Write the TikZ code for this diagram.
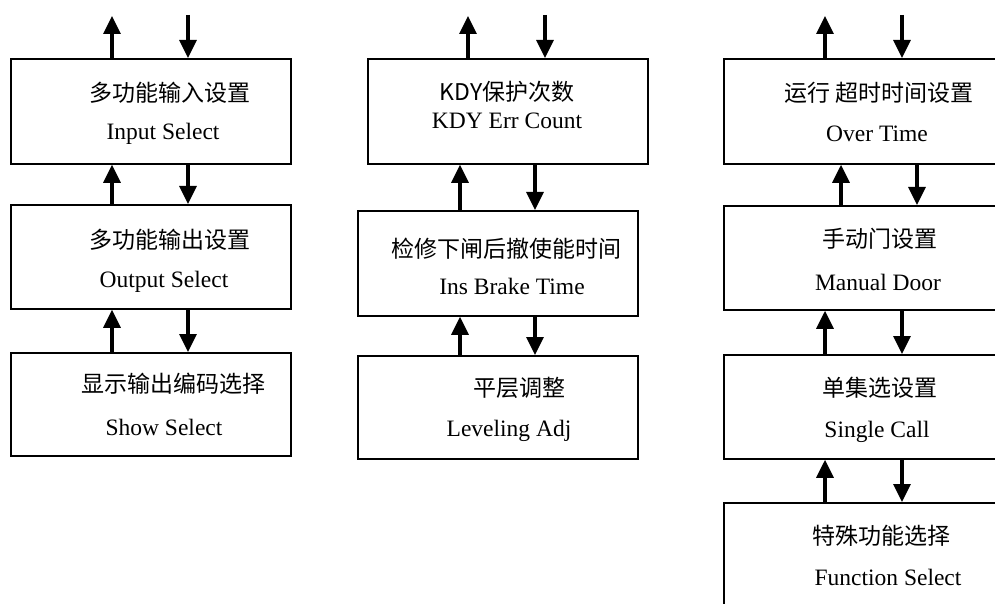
\documentclass[tikz,border=0pt]{standalone}
\usepackage{fontspec}
\setmainfont{Liberation Serif}
\newfontfamily\cjk{Noto Sans CJK SC}
\usetikzlibrary{arrows.meta,calc}
\begin{document}
\begin{tikzpicture}[x=1pt,y=-1pt,
  box/.style={draw,line width=1.8pt,anchor=north west,inner sep=0pt},
  arr/.style={line width=3.2pt,-{Triangle[width=17pt,length=18pt]}},
  cn/.style={font=\cjk\fontsize{23}{28}\selectfont,anchor=base,inner sep=0pt},
  en/.style={font=\fontsize{23.5}{28}\selectfont,anchor=base,inner sep=0pt}]
\clip (0,0) rectangle (995,604);
\fill[white] (0,0) rectangle (995,604);
% column 1
\node[box,minimum width=280pt,minimum height=105pt] (a1) at (10,58) {};
\node[box,minimum width=280pt,minimum height=104pt] (a2) at (10,204) {};
\node[box,minimum width=280pt,minimum height=103pt] (a3) at (10,352) {};
% column 2
\node[box,minimum width=280pt,minimum height=105pt] (b1) at (367,58) {};
\node[box,minimum width=280pt,minimum height=105pt] (b2) at (357,210) {};
\node[box,minimum width=280pt,minimum height=103pt] (b3) at (357,355) {};
% column 3
\node[box,minimum width=300pt,minimum height=105pt] (c1) at (723,58) {};
\node[box,minimum width=300pt,minimum height=104pt] (c2) at (723,205) {};
\node[box,minimum width=300pt,minimum height=104pt] (c3) at (723,354) {};
\node[box,minimum width=300pt,minimum height=130pt] (c4) at (723,502) {};
% labels
\node[cn] (a1c) at (170,102) {多功能输入设置};
\node[en] (a1e) at (163,140) {Input Select};
\node[cn] (a2c) at (170,248) {多功能输出设置};
\node[en] (a2e) at (164,287) {Output Select};
\node[cn] (a3c) at (173,392) {显示输出编码选择};
\node[en] (a3e) at (164,435) {Show Select};
\node[cn] (b1c) at (507,101) {KDY保护次数};
\node[en] (b1e) at (507,129) {KDY Err Count};
\node[cn] (b2c) at (506,257) {检修下闸后撤使能时间};
\node[en] (b2e) at (512,294) {Ins Brake Time};
\node[cn] (b3c) at (519,396) {平层调整};
\node[en] (b3e) at (509,436) {Leveling Adj};
\node[cn] (c1c) at (879,102) {运行 超时时间设置};
\node[en] (c1e) at (877,142) {Over Time};
\node[cn] (c2c) at (880,247) {手动门设置};
\node[en] (c2e) at (878,290) {Manual Door};
\node[cn] (c3c) at (880,396) {单集选设置};
\node[en] (c3e) at (877,437) {Single Call};
\node[cn] (c4c) at (881,544) {特殊功能选择};
\node[en] (c4e) at (888,585) {Function Select};
% free ends
\coordinate (a0u) at (112,16);
\coordinate (a0d) at (188,15);
\coordinate (b0u) at (468,16);
\coordinate (b0d) at (545,15);
\coordinate (c0u) at (825,16);
\coordinate (c0d) at (902,15);
% column 1 arrows
\draw[arr] ($(a1.north west)+(102,0)$) -- (a0u);
\draw[arr] (a0d) -- ($(a1.north west)+(178,0)$);
\draw[arr] ($(a2.north west)+(102,0)$) -- ($(a1.south west)+(102,0)$);
\draw[arr] ($(a1.south west)+(178,0)$) -- ($(a2.north west)+(178,0)$);
\draw[arr] ($(a3.north west)+(102,0)$) -- ($(a2.south west)+(102,0)$);
\draw[arr] ($(a2.south west)+(178,0)$) -- ($(a3.north west)+(178,0)$);
% column 2 arrows
\draw[arr] ($(b1.north west)+(101,0)$) -- (b0u);
\draw[arr] (b0d) -- ($(b1.north west)+(178,0)$);
\draw[arr] ($(b2.north west)+(103,0)$) -- ($(b1.south west)+(93,0)$);
\draw[arr] ($(b1.south west)+(168,0)$) -- ($(b2.north west)+(178,0)$);
\draw[arr] ($(b3.north west)+(103,0)$) -- ($(b2.south west)+(103,0)$);
\draw[arr] ($(b2.south west)+(178,0)$) -- ($(b3.north west)+(178,0)$);
% column 3 arrows
\draw[arr] ($(c1.north west)+(102,0)$) -- (c0u);
\draw[arr] (c0d) -- ($(c1.north west)+(179,0)$);
\draw[arr] ($(c2.north west)+(118,0)$) -- ($(c1.south west)+(118,0)$);
\draw[arr] ($(c1.south west)+(194,0)$) -- ($(c2.north west)+(194,0)$);
\draw[arr] ($(c3.north west)+(102,0)$) -- ($(c2.south west)+(102,0)$);
\draw[arr] ($(c2.south west)+(179,0)$) -- ($(c3.north west)+(179,0)$);
\draw[arr] ($(c4.north west)+(102,0)$) -- ($(c3.south west)+(102,0)$);
\draw[arr] ($(c3.south west)+(179,0)$) -- ($(c4.north west)+(179,0)$);
\end{tikzpicture}
\end{document}
